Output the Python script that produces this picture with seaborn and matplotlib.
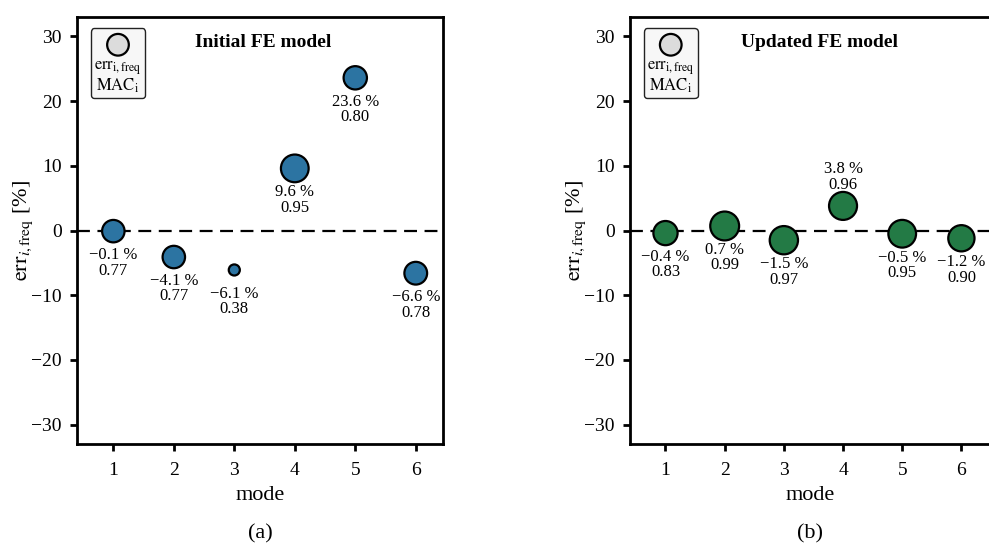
import matplotlib
matplotlib.use("Agg")
import matplotlib.pyplot as plt
import seaborn as sns
import pandas as pd
from matplotlib.patches import Circle
from matplotlib.offsetbox import AnchoredOffsetbox, VPacker, DrawingArea, TextArea

# datos
modes = [1, 2, 3, 4, 5, 6]
err_initial = [-0.1, -4.1, -6.1, 9.6, 23.6, -6.6]
mac_initial = [0.77, 0.77, 0.38, 0.95, 0.80, 0.78]
err_updated = [-0.4, 0.7, -1.5, 3.8, -0.5, -1.2]
mac_updated = [0.83, 0.99, 0.97, 0.96, 0.95, 0.90]

sns.set_style("ticks")
plt.rcParams['font.family'] = ['Liberation Serif', 'DejaVu Serif']
plt.rcParams['mathtext.fontset'] = 'stix'
plt.rcParams['axes.linewidth'] = 2.0
for k in ['text.color', 'axes.labelcolor', 'axes.edgecolor', 'xtick.color', 'ytick.color']:
    plt.rcParams[k] = 'black'


def legend_box(ax):
    da = DrawingArea(19, 19, 0, 0)
    da.add_artist(Circle((9.5, 9.5), 7.8, fc='#dcdcdc', ec='k', lw=1.6))
    ta = TextArea(r"$\mathrm{err}_{\mathrm{i,freq}}$" + "\n" + r"$\mathrm{MAC}_{\mathrm{i}}$",
                  textprops=dict(fontsize=12, ha='center', multialignment='center',
                                 linespacing=0.95))
    pack = VPacker(children=[da, ta], align='center', pad=0, sep=1)
    box = AnchoredOffsetbox(loc='upper left', child=pack, pad=0.25, borderpad=0,
                            frameon=True, bbox_to_anchor=(0.038, 0.974),
                            bbox_transform=ax.transAxes)
    box.patch.set_boxstyle("round,pad=0,rounding_size=0.25")
    box.patch.set_facecolor('#f7f7f7')
    box.patch.set_edgecolor('#222222')
    box.patch.set_linewidth(1.0)
    ax.add_artist(box)


def panel(ax, err, mac, color, title, title_x, tag, above, xmax):
    df = pd.DataFrame({"mode": modes, "err": err, "mac": mac})
    tamanos = {m: (21.0 * m) ** 2 for m in df["mac"].unique()}
    ax.axhline(0, color='k', lw=1.6, ls=(0, (5.8, 3.4)), zorder=1)
    sns.scatterplot(data=df, x="mode", y="err", size="mac", sizes=tamanos,
                    color=color, edgecolor='k', linewidth=1.6, legend=False,
                    ax=ax, zorder=3)
    for x, e, m, up in zip(modes, err, mac, above):
        txt = f"{e:.1f} %".replace("-", "\u2212") + "\n" + f"{m:.2f}"
        ax.annotate(txt, (x, e), xytext=(0, 9.5 if up else -11.5),
                    textcoords="offset points", ha='center',
                    va='bottom' if up else 'top', fontsize=12, linespacing=0.95)
    ax.set_xlim(0.4, xmax)
    ax.set_ylim(-33, 33)
    ax.set_xticks(modes)
    ax.set_yticks([-30, -20, -10, 0, 10, 20, 30])
    ax.tick_params(direction='out', length=5, width=2, labelsize=14, pad=6)
    ax.tick_params(axis='x', pad=8)
    ax.set_xlabel("mode", fontsize=16, labelpad=5)
    ax.set_ylabel(r"$\mathrm{err}_{i,\mathrm{freq}}$ [%]", fontsize=16, labelpad=-3)
    ax.text(title_x, 0.941, title, transform=ax.transAxes, ha='center', va='center',
            fontsize=14, fontweight='bold')
    ax.text(0.5, -0.21, tag, transform=ax.transAxes, ha='center', va='center',
            fontsize=16)
    legend_box(ax)


fig = plt.figure(figsize=(9.89, 5.43), dpi=100)
ax1 = fig.add_axes([0.0779, 0.1823, 0.370, 0.7864])
ax2 = fig.add_axes([0.637, 0.1823, 0.365, 0.7864])

panel(ax1, err_initial, mac_initial, '#2c74a2', "Initial FE model", 0.508, "(a)",
      [False] * 6, 6.45)
panel(ax2, err_updated, mac_updated, '#237a45', "Updated FE model", 0.525, "(b)",
      [False, False, False, True, False, False], 6.5)

fig.savefig("out.png", dpi=100)
